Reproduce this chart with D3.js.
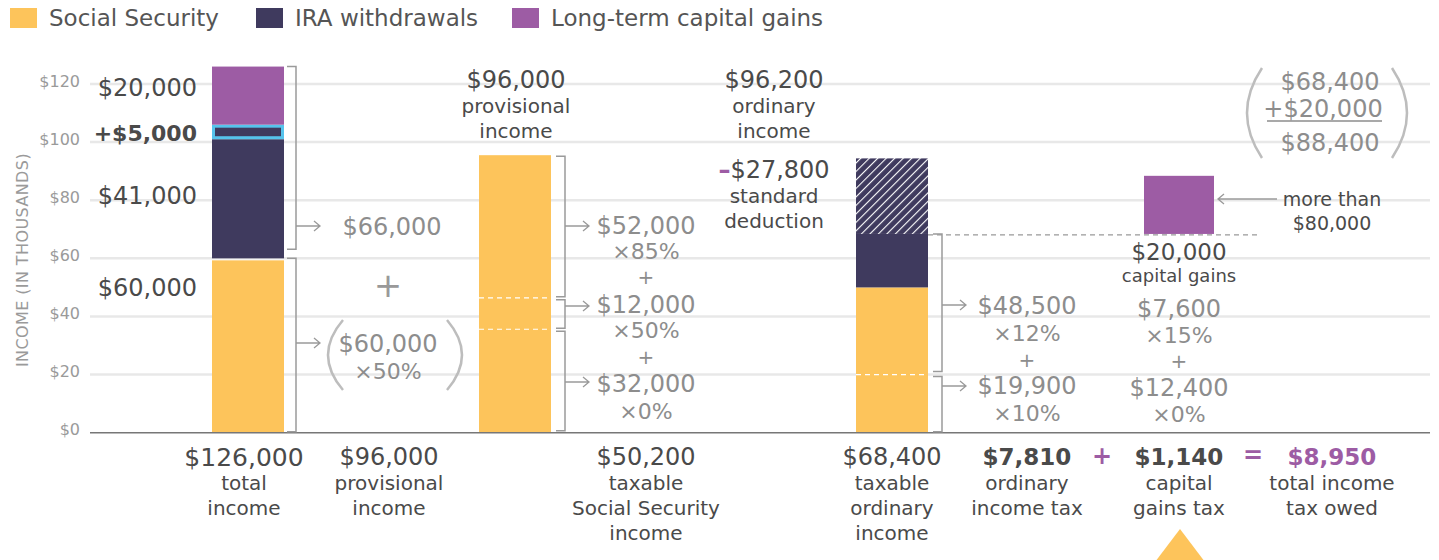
<!DOCTYPE html>
<html>
<head>
<meta charset="utf-8">
<script src="https://cdn.jsdelivr.net/npm/d3@7"></script>
<style>
  body { margin: 0; background: #fff; }
  svg { display: block; font-family: "DejaVu Sans", sans-serif; }
</style>
</head>
<body>
<div id="chart"></div>
<script>
// data (thousands of dollars)
var seriesNames = ["Social Security", "IRA withdrawals", "Long-term capital gains"];
var yTicks = [0, 20, 40, 60, 80, 100, 120];

var totalIncome = [60, 41, 5, 20];          // SS, IRA, extra IRA, cap gains
var provisional = [95.5];                   // SS bar for provisional step
var provisionalSplits = [35.6, 46.4];       // dashed tier lines
var taxableOrdinary = [50, 18.4, 26];       // SS, IRA, standard deduction
var ordinarySplit = 20;
var capGainsBar = [68.4, 20];               // base, height

var bottomLabels = [
  { col: "total", value: "$126,000", lines: ["total", "income"] },
  { col: "prov", value: "$96,000", lines: ["provisional", "income"] },
  { col: "ss", value: "$50,200", lines: ["taxable", "Social Security", "income"] },
  { col: "ord", value: "$68,400", lines: ["taxable", "ordinary", "income"] },
  { col: "ordTax", value: "$7,810", lines: ["ordinary", "income tax"], bold: true },
  { col: "cgTax", value: "$1,140", lines: ["capital", "gains tax"], bold: true },
  { col: "owed", value: "$8,950", lines: ["total income", "tax owed"], bold: true, purple: true }
];
var ssTiers = ["$52,000", "×85%", "+", "$12,000", "×50%", "+", "$32,000", "×0%"];
var ordTiers = ["$48,500", "×12%", "+", "$19,900", "×10%"];
var cgTiers = ["$7,600", "×15%", "+", "$12,400", "×0%"];

var colors = { ss: "#fdc45b", ira: "#3f3a5e", cg: "#9d5ca4", cyan: "#56c3ec" };
var dark = "#4a4a4a", grey = "#8d8d8d", light = "#bdbdbd";

var width = 1439, height = 560;
var svg = d3.select("#chart").append("svg")
    .attr("width", width)
    .attr("height", height);

var y = d3.scaleLinear().domain([0, 120]).range([432.7, 84]);
var col = d3.scaleOrdinal()
    .domain(["total", "prov", "bar2", "ss", "ordHead", "ord", "ordTax", "cgTax", "owed"])
    .range([244, 389, 515, 646, 774, 892, 1027, 1179, 1332]);
var barW = 72;

var defs = svg.append("defs");
var pat = defs.append("pattern")
    .attr("id", "hatch")
    .attr("patternUnits", "userSpaceOnUse")
    .attr("width", 6).attr("height", 6)
    .attr("patternTransform", "rotate(45)");
pat.append("rect").attr("width", 6).attr("height", 6).attr("fill", colors.ira);
pat.append("line").attr("x1", 0).attr("y1", 0).attr("x2", 0).attr("y2", 6)
    .attr("stroke", "#fff").attr("stroke-width", 2.2);

function txt(x, yy, s, size, fill, opts) {
  opts = opts || {};
  return svg.append("text")
    .attr("x", x).attr("y", yy)
    .attr("text-anchor", opts.anchor || "middle")
    .attr("dominant-baseline", "central")
    .attr("font-size", size)
    .attr("font-weight", opts.bold ? "bold" : null)
    .attr("fill", fill)
    .text(s);
}

// legend
var legendX = [10, 256, 512];
seriesNames.forEach(function(name, i) {
  svg.append("rect").attr("x", legendX[i]).attr("y", 8).attr("width", 27).attr("height", 20)
    .attr("fill", [colors.ss, colors.ira, colors.cg][i]);
  txt(legendX[i] + 39, 18, name, 23, "#555", { anchor: "start" });
});

// grid
svg.append("g").selectAll("line").data(yTicks.slice(1)).enter().append("line")
  .attr("x1", 90).attr("x2", 1430)
  .attr("y1", function(d) { return y(d); }).attr("y2", function(d) { return y(d); })
  .attr("stroke", "#e8e8e8").attr("stroke-width", 2.5);

svg.append("g").selectAll("text").data(yTicks).enter().append("text")
  .attr("x", 80).attr("y", function(d) { return y(d) - 3; })
  .attr("text-anchor", "end").attr("dominant-baseline", "central")
  .attr("font-size", 16).attr("fill", "#9a9a9a")
  .text(function(d) { return "$" + d; });

svg.append("text")
  .attr("transform", "translate(22,260) rotate(-90)")
  .attr("text-anchor", "middle").attr("dominant-baseline", "central")
  .attr("font-size", 16).attr("fill", "#9a9a9a").attr("letter-spacing", 0.4)
  .text("INCOME (IN THOUSANDS)");

// bar 1: total income
var b1x = col("total") - barW / 2 + 4;
var b1 = [];
var acc = 0;
totalIncome.forEach(function(v, i) { b1.push({ y0: acc, y1: acc + v, i: i }); acc += v; });
svg.append("g").selectAll("rect").data(b1).enter().append("rect")
  .attr("x", function(d) { return d.i == 2 ? b1x + 1.5 : b1x; })
  .attr("width", function(d) { return d.i == 2 ? barW - 3 : barW; })
  .attr("y", function(d) {
    if (d.i == 0) return y(d.y1) + 2;
    if (d.i == 2) return y(d.y1) + 1.5;
    return y(d.y1);
  })
  .attr("height", function(d) {
    var h = y(d.y0) - y(d.y1);
    if (d.i == 0) h -= 2;
    if (d.i == 2) h -= 3;
    return h;
  })
  .attr("fill", function(d) { return [colors.ss, colors.ira, colors.ira, colors.cg][d.i]; })
  .attr("stroke", function(d) { return d.i == 2 ? colors.cyan : null; })
  .attr("stroke-width", 3);

// bar 2: provisional income SS
var b2x = col("bar2") - barW / 2;
svg.append("rect").attr("x", b2x).attr("width", barW)
  .attr("y", y(provisional[0])).attr("height", y(0) - y(provisional[0]))
  .attr("fill", colors.ss);
svg.selectAll(".split2").data(provisionalSplits).enter().append("line")
  .attr("x1", b2x).attr("x2", b2x + barW)
  .attr("y1", function(d) { return y(d); }).attr("y2", function(d) { return y(d); })
  .attr("stroke", "#fff").attr("stroke-width", 1.2).attr("stroke-dasharray", "5,4");

// bar 4: taxable ordinary income
var b4x = col("ord") - barW / 2;
var b4 = [];
acc = 0;
taxableOrdinary.forEach(function(v, i) { b4.push({ y0: acc, y1: acc + v, i: i }); acc += v; });
svg.append("g").selectAll("rect").data(b4).enter().append("rect")
  .attr("x", b4x).attr("width", barW)
  .attr("y", function(d) { return y(d.y1); })
  .attr("height", function(d) { return y(d.y0) - y(d.y1); })
  .attr("fill", function(d) { return [colors.ss, colors.ira, "url(#hatch)"][d.i]; });
svg.append("line").attr("x1", b4x).attr("x2", b4x + barW)
  .attr("y1", y(ordinarySplit)).attr("y2", y(ordinarySplit))
  .attr("stroke", "#fff").attr("stroke-width", 1.2).attr("stroke-dasharray", "5,4");

// capital gains bar
var b5x = col("cgTax") - 35;
svg.append("rect").attr("x", b5x).attr("width", 70)
  .attr("y", y(capGainsBar[0] + capGainsBar[1]))
  .attr("height", y(capGainsBar[0]) - y(capGainsBar[0] + capGainsBar[1]))
  .attr("fill", colors.cg);

svg.append("line")
  .attr("x1", b4x + barW).attr("x2", 1258)
  .attr("y1", y(capGainsBar[0]) + 1).attr("y2", y(capGainsBar[0]) + 1)
  .attr("stroke", "#999").attr("stroke-width", 1.2).attr("stroke-dasharray", "5,4");

// baseline
svg.append("line").attr("x1", 90).attr("x2", 1430).attr("y1", y(0)).attr("y2", y(0))
  .attr("stroke", "#777").attr("stroke-width", 1.5);

// brackets and arrows
function bracket(bx, top, bottom) {
  var p = d3.path();
  p.moveTo(bx - 9, top); p.lineTo(bx, top); p.lineTo(bx, bottom); p.lineTo(bx - 9, bottom);
  svg.append("path").attr("d", p.toString()).attr("fill", "none")
    .attr("stroke", "#9a9a9a").attr("stroke-width", 1.5);
}
function arrow(x1, x2, yy) {
  var dir = x2 > x1 ? 1 : -1;
  var p = d3.path();
  p.moveTo(x1, yy); p.lineTo(x2, yy);
  p.moveTo(x2 - dir * 6, yy - 5); p.lineTo(x2, yy); p.lineTo(x2 - dir * 6, yy + 5);
  svg.append("path").attr("d", p.toString()).attr("fill", "none")
    .attr("stroke", "#9a9a9a").attr("stroke-width", 1.3);
}

var bx1 = b1x + barW + 12;
bracket(bx1, y(126), y(60) - 9);
bracket(bx1, y(60), y(0) - 1);
arrow(bx1, bx1 + 24, 226);
arrow(bx1, bx1 + 24, 343);

var bx2 = b2x + barW + 14;
bracket(bx2, y(provisional[0]) + 1, y(provisionalSplits[1]) - 1);
bracket(bx2, y(provisionalSplits[1]) + 2, y(provisionalSplits[0]) - 1);
bracket(bx2, y(provisionalSplits[0]) + 2, y(0) - 2);
arrow(bx2, bx2 + 24, 226);
arrow(bx2, bx2 + 24, 306);
arrow(bx2, bx2 + 24, 382);

var bx4 = b4x + barW + 14;
bracket(bx4, y(capGainsBar[0]), y(ordinarySplit) - 3);
bracket(bx4, y(ordinarySplit) + 2, y(0) - 1);
arrow(bx4, bx4 + 24, 305);
arrow(bx4, bx4 + 24, 386);

arrow(1277, 1218, 199);

// bar 1 labels
txt(197, 88, "$20,000", 24, dark, { anchor: "end" });
txt(197, 133, "+$5,000", 22, dark, { anchor: "end", bold: true });
txt(197, 196, "$41,000", 24, dark, { anchor: "end" });
txt(197, 288, "$60,000", 24, dark, { anchor: "end" });

// provisional income pieces
txt(392, 227, "$66,000", 24, grey);
txt(388, 285, "+", 34, "#999");
txt(388, 344, "$60,000", 24, grey);
txt(388, 371, "×50%", 22, grey);

function paren(xEnd, xMid, top, bottom) {
  var p = d3.path();
  p.moveTo(xEnd, top);
  p.quadraticCurveTo(2 * xMid - xEnd, (top + bottom) / 2, xEnd, bottom);
  svg.append("path").attr("d", p.toString()).attr("fill", "none")
    .attr("stroke", light).attr("stroke-width", 2.5);
}
paren(343, 328, 320, 390);
paren(447, 462, 320, 390);

// tier labels
function tierSize(s) { return s.charAt(0) == "$" ? 24 : (s == "+" ? 20 : 22); }
var ssRows = [226, 251, 277, 305, 330, 357, 384, 411];
ssTiers.forEach(function(s, i) { txt(col("ss"), ssRows[i], s, tierSize(s), grey); });
var ordRows = [306, 333, 360, 386, 413];
ordTiers.forEach(function(s, i) { txt(col("ordTax"), ordRows[i], s, tierSize(s), grey); });
var cgRows = [309, 335, 361, 388, 414];
cgTiers.forEach(function(s, i) { txt(col("cgTax"), cgRows[i], s, tierSize(s), grey); });

// headers
txt(col("bar2") + 1, 80, "$96,000", 24, dark);
txt(col("bar2") + 1, 106, "provisional", 20, dark);
txt(col("bar2") + 1, 131, "income", 20, dark);

txt(col("ordHead"), 80, "$96,200", 24, dark);
txt(col("ordHead"), 106, "ordinary", 20, dark);
txt(col("ordHead"), 131, "income", 20, dark);
var ded = txt(col("ordHead"), 170, "", 24, dark);
ded.append("tspan").attr("fill", colors.cg).attr("font-weight", "bold").text("–");
ded.append("tspan").text("$27,800");
txt(col("ordHead"), 196, "standard", 20, dark);
txt(col("ordHead"), 221, "deduction", 20, dark);

txt(col("cgTax"), 252, "$20,000", 23, dark);
txt(col("cgTax"), 275, "capital gains", 18, dark);

txt(1332, 199, "more than", 19, dark);
txt(1332, 223, "$80,000", 19, dark);

// sum at top right
txt(1330, 82, "$68,400", 24, grey);
txt(1323, 109, "+$20,000", 24, grey);
svg.append("line").attr("x1", 1267).attr("x2", 1382).attr("y1", 121).attr("y2", 121)
  .attr("stroke", grey).attr("stroke-width", 1.5);
txt(1330, 143, "$88,400", 24, grey);
paren(1262, 1247, 68, 158);
paren(1392, 1407, 68, 158);

// bottom labels
bottomLabels.forEach(function(d) {
  var cx = col(d.col);
  var size = d.bold ? 23 : (d.col == "total" ? 25 : 24);
  txt(cx, 457, d.value, size, d.purple ? colors.cg : dark, { bold: d.bold });
  d.lines.forEach(function(l, i) { txt(cx, 483 + i * 25, l, 20, dark); });
});
txt(1102, 456, "+", 24, colors.cg, { bold: true });
txt(1253, 455, "=", 24, colors.cg, { bold: true });

// marker under capital gains tax
svg.append("path")
  .attr("d", d3.line()([[col("cgTax") + 1, 529], [col("cgTax") + 29, 566], [col("cgTax") - 27, 566]]))
  .attr("fill", colors.ss);
</script>
</body>
</html>
